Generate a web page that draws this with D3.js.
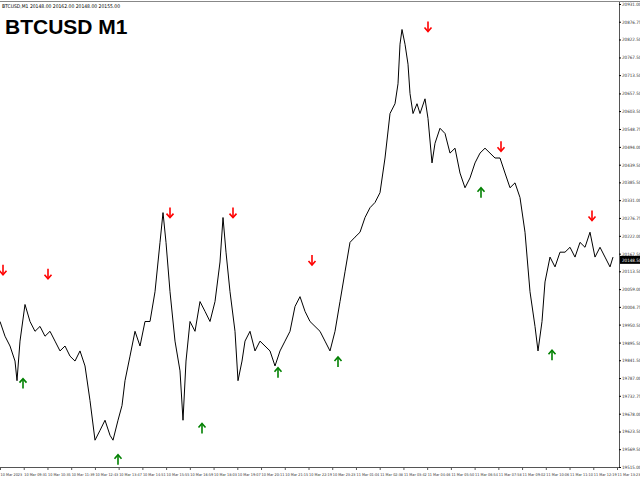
<!DOCTYPE html>
<html><head><meta charset="utf-8">
<script src="https://cdn.jsdelivr.net/npm/d3@7"></script>
<style>body{margin:0;background:#fff}svg{display:block}</style>
</head><body><svg id="c" width="640" height="480"></svg>
<script>
const bars = [0,5,10,15,17,20,25,30,35,40,45,50,55,60,65,70,75,80,85,90,95,100,105,110,113,118,122,125,130,135,140,145,150,155,160,163,166,170,175,180,183,186,190,195,200,205,210,215,220,223,226,230,235,238,242,245,250,255,260,265,270,275,280,285,290,295,300,305,310,315,320,325,330,335,340,345,350,355,360,365,370,375,380,385,390,395,398,400,402,405,408,410,413,417,420,425,428,432,435,440,445,450,455,460,465,470,475,480,485,490,495,500,505,510,515,520,525,530,535,538,542,545,550,555,560,565,570,575,580,585,590,595,600,605,610,613];
const prices = [19960,19915,19885,19839,19779,19900,20012,19960,19930,19945,19915,19930,19900,19870,19885,19854,19839,19870,19824,19718,19597,19627,19658,19612,19597,19658,19703,19779,19854,19930,19885,19960,19960,20051,20202,20293,20202,20051,19900,19809,19658,19839,19960,19930,20021,19991,19960,20021,20142,20278,20172,20051,19930,19779,19839,19900,19930,19870,19900,19885,19870,19824,19870,19900,19930,20006,20036,19991,19960,19945,19930,19900,19870,19930,20021,20112,20202,20218,20233,20278,20308,20324,20354,20460,20596,20626,20687,20808,20853,20808,20747,20657,20596,20626,20596,20641,20581,20445,20505,20551,20535,20475,20490,20414,20369,20399,20445,20475,20490,20475,20460,20460,20414,20369,20384,20339,20233,20051,19945,19870,19960,20081,20157,20127,20172,20172,20187,20157,20202,20187,20233,20157,20187,20157,20127,20157];
const sellBars = [3,48,170,233,312,428,501,592];
const sellPrices = [20118,20106,20293,20293,20148,20862,20496,20284];
const buyBars = [23,118,202,278,338,481,552];
const buyPrices = [19770,19537,19633,19803,19836,20354,19857];
const priceTicks = [20931.00,20876.75,20822.50,20767.50,20713.50,20657.50,20603.50,20548.75,20494.00,20439.50,20385.50,20331.00,20276.75,20222.00,20167.50,20113.50,20059.00,20004.75,19950.50,19895.50,19841.50,19787.00,19732.75,19678.00,19623.50,19569.50,19515.00];
const timeLabels = ["10 Mar 2023","10 Mar 09:31","10 Mar 10:35","10 Mar 11:39","10 Mar 12:43","10 Mar 13:47","10 Mar 14:51","10 Mar 15:55","10 Mar 16:59","10 Mar 18:03","10 Mar 19:07","10 Mar 20:11","10 Mar 21:15","10 Mar 22:19","10 Mar 23:23","11 Mar 01:04","11 Mar 02:38","11 Mar 03:42","11 Mar 04:46","11 Mar 05:50","11 Mar 06:54","11 Mar 07:58","11 Mar 09:02","11 Mar 10:06","11 Mar 11:10","11 Mar 12:19","11 Mar 13:23"];
const lastPrice = 20148.50;

const svg = d3.select("#c");
const W = 619, H = 467;
const FONT = "Liberation Sans Narrow, DejaVu Sans Condensed, sans-serif";
const x = d3.scaleLinear().domain([0, 619]).range([0, W]);
const y = d3.scaleLinear().domain([19515, 20931]).range([467, 4]);

svg.append("line").attr("x1",0).attr("x2",640).attr("y1",1.5).attr("y2",1.5).attr("stroke","#888");
svg.append("text").attr("x",2).attr("y",8).attr("font-size",5).attr("font-family",FONT)
  .text("BTCUSD,M1  20148.00 20162.00 20148.00 20155.00");
svg.append("text").attr("x",5).attr("y",34).attr("font-size",21).attr("font-weight","bold")
  .attr("font-family","Liberation Sans, Arial").text("BTCUSD M1");

const line = d3.line().x((d,i)=>x(bars[i])).y(d=>y(d));
svg.append("path").datum(prices).attr("d",line).attr("fill","none").attr("stroke","#000").attr("stroke-width",1);

svg.append("line").attr("x1",W+0.5).attr("x2",W+0.5).attr("y1",2).attr("y2",H+1).attr("stroke","#555");
svg.append("line").attr("x1",0).attr("x2",W).attr("y1",H+0.5).attr("y2",H+0.5).attr("stroke","#555");
const ya = svg.append("g").attr("transform",`translate(${W},0)`)
  .call(d3.axisRight(y).tickValues(priceTicks).tickSize(2).tickFormat(d=>d.toFixed(2)));
ya.select(".domain").remove();
ya.selectAll("text").attr("font-size",4.5).attr("font-family",FONT).attr("x",3).attr("fill","#333");
const ts = d3.scaleLinear().domain([0,timeLabels.length-1]).range([0,617]);
timeLabels.forEach((t,i)=>{
  svg.append("line").attr("x1",ts(i)+0.5).attr("x2",ts(i)+0.5).attr("y1",H).attr("y2",H+3).attr("stroke","#555");
  svg.append("text").attr("x",ts(i)+0.5).attr("y",476).attr("font-size",3.8).attr("font-family",FONT).attr("fill","#333").text(t);
});
svg.append("rect").attr("x",W+1).attr("y",y(lastPrice)-4).attr("width",20).attr("height",8).attr("fill","#000");
svg.append("text").attr("x",W+3).attr("y",y(lastPrice)+2).attr("font-size",4.5).attr("fill","#fff").attr("font-family",FONT).text(lastPrice.toFixed(2));

function arrow(bx, p, down, col){
  const cx = x(bx), cy = y(p);
  const g = svg.append("g").attr("transform",`translate(${cx},${cy})`);
  const s = down ? 1 : -1;
  g.append("line").attr("x1",0).attr("x2",0).attr("y1",-5*s).attr("y2",4*s).attr("stroke",col).attr("stroke-width",1.6);
  g.append("path").attr("d",`M-3.5,${1*s}L0,${5*s}L3.5,${1*s}`).attr("fill","none").attr("stroke",col).attr("stroke-width",1.6);
}
sellBars.forEach((b,i)=>arrow(b, sellPrices[i], true, "#ff0000"));
buyBars.forEach((b,i)=>arrow(b, buyPrices[i], false, "#008000"));
</script></body></html>
